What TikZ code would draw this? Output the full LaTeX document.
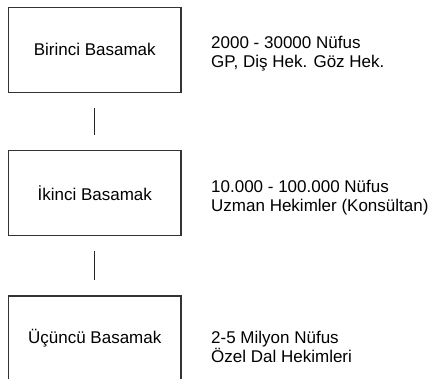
\documentclass[tikz,border=0pt]{standalone}
\usepackage{fontspec}
\setmainfont{Liberation Sans}
\begin{document}
\begin{tikzpicture}[x=1pt,y=-1pt,
  level/.style={draw=black!80, line width=1.1pt, minimum width=172.5pt,
    minimum height=85pt, inner sep=0pt, font=\fontsize{17}{19}\selectfont},
  link/.style={draw=black!85, line width=1.2pt, shorten <=15pt, shorten >=15pt},
  info/.style={anchor=base west, align=left, inner sep=0pt,
    font=\fontsize{17}{19}\selectfont}]
\useasboundingbox (0,0) rectangle (430,378);
\begin{scope}
\clip (0,0) rectangle (430,378);
\node[level] (b1) at (94.75,49.75) {Birinci Basamak};
\node[level] (b2) at (94.75,192.75) {İkinci Basamak};
\node[level] (b3) at (94.75,338.5) {Üçüncü Basamak};
\end{scope}
\draw[link] (b1.south) -- (b2.north);
\draw[link] (b2.south) -- (b3.north);
% the base anchor of a two-line node sits on its last line
\node[info] (t1) at (211,67) {2000 - 30000 Nüfus\\GP, Diş Hek. Göz Hek.};
\node[info] (t2) at (211,211) {10.000 - 100.000 Nüfus\\Uzman Hekimler (Konsültan)};
\node[info] (t3) at (211,362) {2-5 Milyon Nüfus\\Özel Dal Hekimleri};
\end{tikzpicture}
\end{document}
